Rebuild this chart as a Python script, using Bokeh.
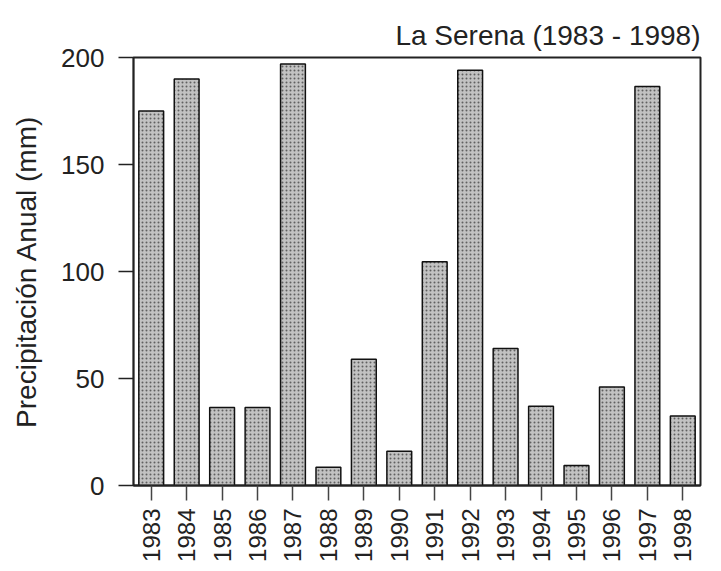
import math
from bokeh.plotting import figure
from bokeh.models import ColumnDataSource, FactorRange, Range1d, FixedTicker
from bokeh.embed import file_html
from bokeh.resources import INLINE

years = [str(y) for y in range(1983, 1999)]
precip = [175, 190, 36.5, 36.5, 197, 8.5, 59, 16, 104.5, 194, 64, 37, 9.3, 46, 186.5, 32.5]
y_ticks = [0, 50, 100, 150, 200]

FONT = "Liberation Sans"

src = ColumnDataSource(dict(year=years, val=precip))

p = figure(
    x_range=FactorRange(*years, range_padding=0),
    y_range=Range1d(0, 200),
    width=713, height=563,
    frame_width=567, frame_height=428,
    min_border_left=133, min_border_top=57, min_border_right=13, min_border_bottom=20,
    output_backend="svg", toolbar_location=None,
    title="La Serena (1983 - 1998)",
)

p.vbar(x="year", top="val", width=0.7, source=src,
       fill_color="#c2c2c2", line_color="#111111", line_width=1.5,
       hatch_pattern="dot", hatch_color="#606060", hatch_scale=4, hatch_weight=1)

p.title.align = "right"
p.title.text_font = FONT
p.title.text_font_size = "28px"
p.title.text_font_style = "normal"
p.title.text_color = "#222222"
p.title.standoff = 14

p.xgrid.grid_line_color = None
p.ygrid.grid_line_color = None
p.outline_line_color = "#222222"
p.outline_line_width = 2

p.yaxis.ticker = FixedTicker(ticks=y_ticks)
p.yaxis.axis_label = "Precipitación Anual (mm)"
p.yaxis.axis_label_text_font = FONT
p.yaxis.axis_label_text_font_size = "28px"
p.yaxis.axis_label_text_font_style = "normal"
p.yaxis.axis_label_text_color = "#222222"
p.yaxis.axis_label_standoff = 16
p.yaxis.major_label_text_font = FONT
p.yaxis.major_label_text_font_size = "26px"
p.yaxis.major_label_text_color = "#222222"
p.yaxis.major_label_standoff = 14
p.yaxis.major_tick_out = 15
p.yaxis.major_tick_in = 0
p.yaxis.minor_tick_line_color = None
p.yaxis.axis_line_width = 1.5
p.yaxis.major_tick_line_width = 1.5
p.yaxis.axis_line_color = "#222222"
p.yaxis.major_tick_line_color = "#222222"

p.xaxis.major_label_orientation = math.pi / 2
p.xaxis.major_label_text_font = FONT
p.xaxis.major_label_text_font_size = "24px"
p.xaxis.major_label_text_color = "#222222"
p.xaxis.major_label_standoff = 8
p.xaxis.major_tick_out = 15
p.xaxis.major_tick_in = 0
p.xaxis.axis_line_width = 2
p.xaxis.major_tick_line_width = 1.5
p.xaxis.axis_line_color = "#222222"
p.xaxis.major_tick_line_color = "#444444"

open("out.html", "w").write(file_html(p, INLINE))
